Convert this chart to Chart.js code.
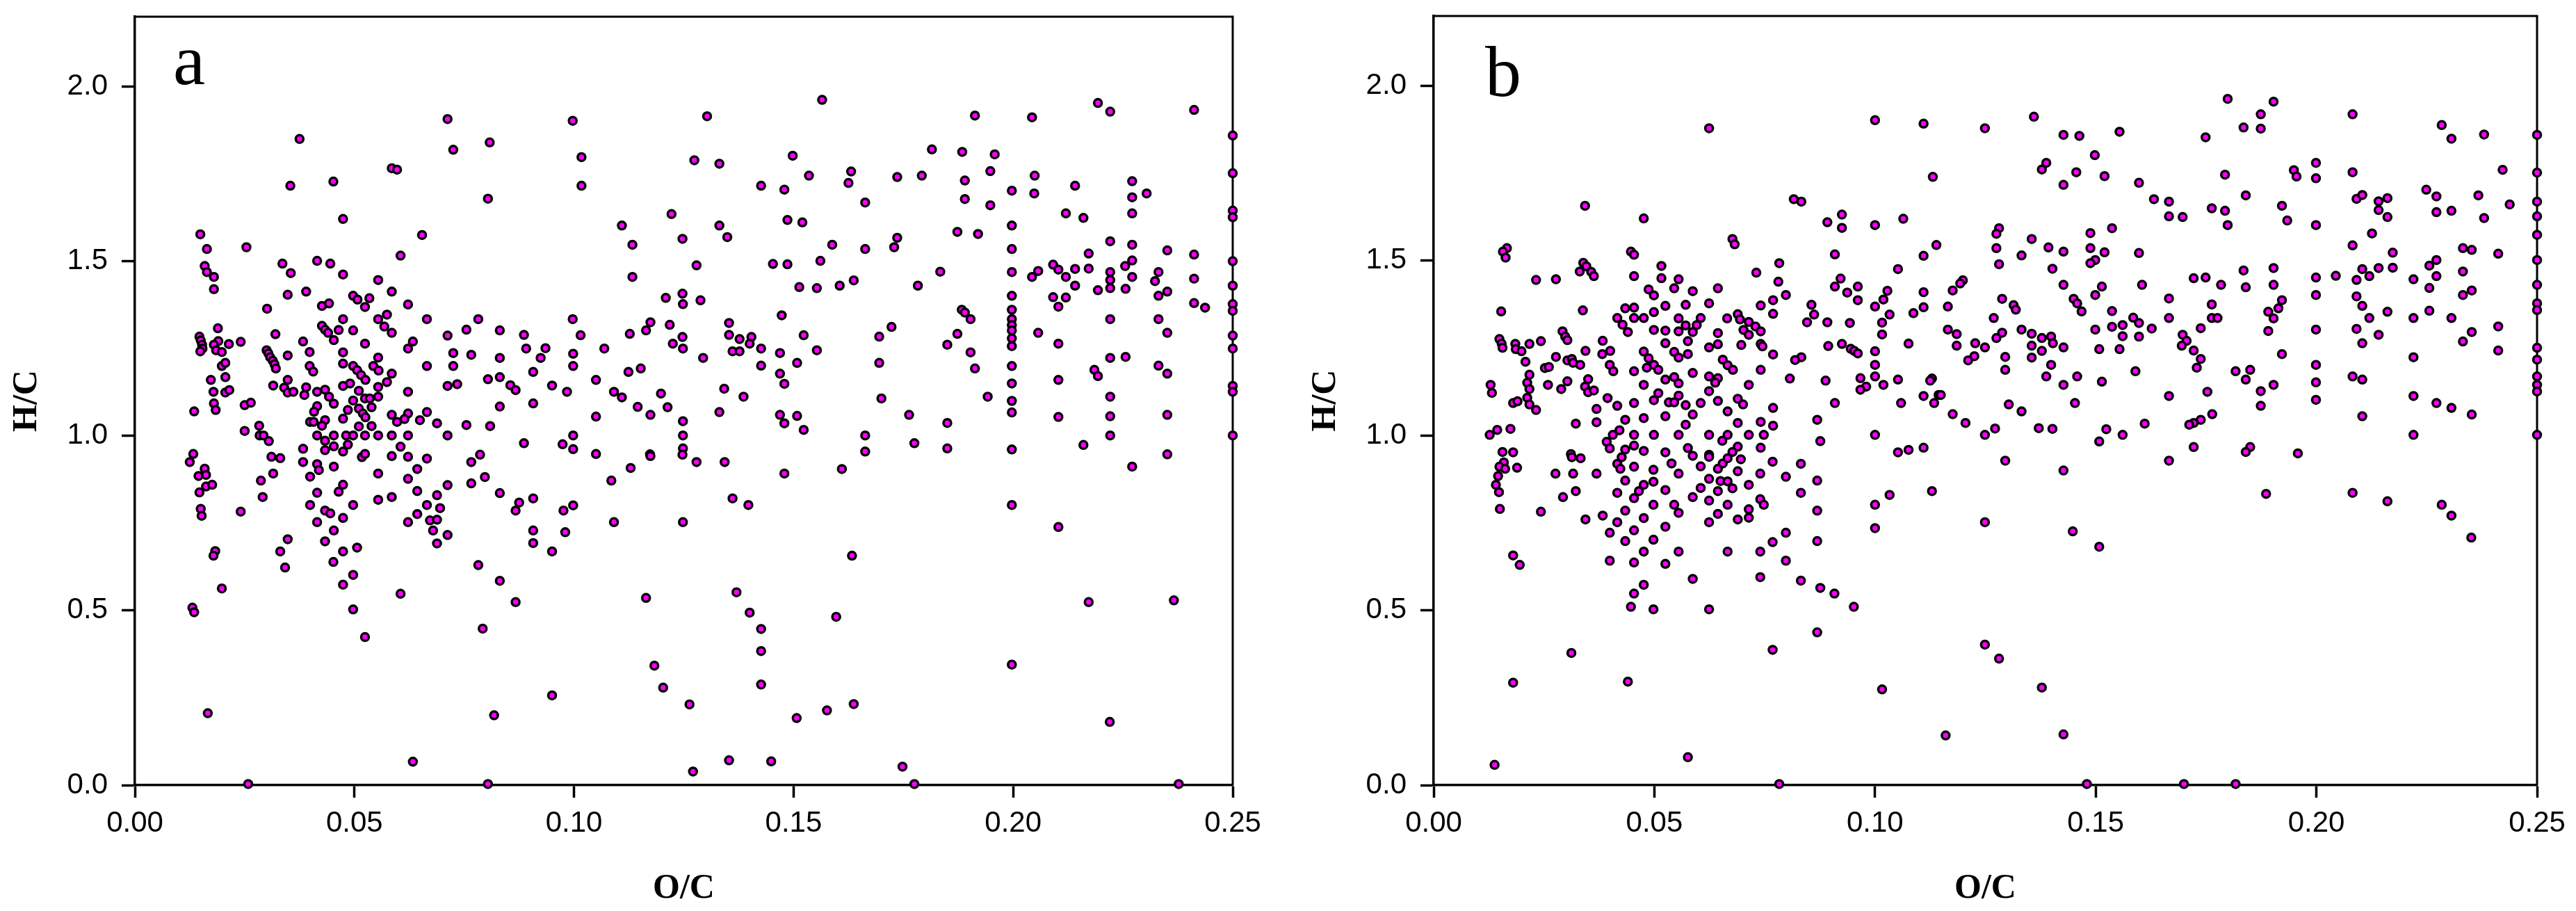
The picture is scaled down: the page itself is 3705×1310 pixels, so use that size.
<!DOCTYPE html>
<html>
<head>
<meta charset="utf-8">
<title>H/C vs O/C</title>
<script src="https://cdn.jsdelivr.net/npm/chart.js@4/dist/chart.umd.min.js"></script>
<style>
  html, body { margin: 0; padding: 0; background: #fff; }
  canvas { position: absolute; top: 0; }
  #chartA { left: 0; }
  #chartB { left: 1868px; }
</style>
</head>
<body>
<canvas id="chartA" width="1868" height="1310"></canvas>
<canvas id="chartB" width="1837" height="1310"></canvas>
<script>
const xTicks = [0, 0.05, 0.10, 0.15, 0.20, 0.25];
const yTicks = [0, 0.5, 1.0, 1.5, 2.0];

// [O/C, H/C]
const panelA = [
[.0375,1.85],[.0354,1.716],[.0452,1.728],[.0585,1.766],[.0597,1.762],[.0712,1.907],[.0725,1.819],[.0808,1.84],[.0804,1.679],[.0997,1.902],
[.1017,1.798],[.1017,1.716],[.0474,1.621],[.0654,1.575],[.0605,1.516],[.0149,1.577],[.0164,1.535],[.0254,1.54],[.0159,1.486],[.0164,1.469],
[.018,1.455],[.018,1.42],[.0336,1.493],[.0355,1.466],[.0415,1.501],[.0445,1.493],[.0474,1.462],[.0554,1.446],[.0585,1.413],[.039,1.413],
[.0348,1.404],[.0497,1.401],[.0507,1.39],[.0534,1.394],[.0524,1.369],[.0622,1.376],[.0426,1.372],[.0442,1.379],[.0301,1.364],[.0574,1.347],
[.0554,1.334],[.0474,1.334],[.0665,1.334],[.0782,1.334],[.0997,1.334],[.0568,1.313],[.0585,1.295],[.0426,1.315],[.0433,1.304],[.044,1.295],
[.0464,1.303],[.0497,1.302],[.0755,1.304],[.0831,1.302],[.0886,1.289],[.0712,1.287],[.1015,1.288],[.0189,1.308],[.032,1.291],[.0147,1.284],
[.015,1.273],[.0153,1.261],[.0154,1.25],[.0149,1.242],[.019,1.271],[.018,1.261],[.0214,1.263],[.0185,1.245],[.0198,1.24],[.0241,1.269],
[.0383,1.27],[.0453,1.274],[.0524,1.264],[.0633,1.27],[.0622,1.25],[.0891,1.25],[.0935,1.251],[.1069,1.25],[.03,1.245],[.0304,1.236],
[.0308,1.225],[.0314,1.215],[.0318,1.205],[.0321,1.193],[.0348,1.23],[.0398,1.24],[.0474,1.239],[.0554,1.224],[.0725,1.237],[.0766,1.232],
[.0831,1.223],[.0924,1.223],[.0998,1.235],[.0474,1.207],[.0398,1.2],[.0406,1.184],[.0497,1.2],[.0506,1.188],[.0515,1.174],[.0525,1.16],
[.0543,1.2],[.0555,1.187],[.0585,1.178],[.0665,1.2],[.0725,1.2],[.0998,1.2],[.0198,1.2],[.0206,1.209],[.0206,1.168],[.0173,1.16],
[.0179,1.126],[.0206,1.124],[.0215,1.131],[.0348,1.16],[.0315,1.144],[.034,1.138],[.0348,1.124],[.0361,1.126],[.039,1.139],[.0386,1.117],
[.0415,1.126],[.0433,1.132],[.0442,1.112],[.0453,1.092],[.0474,1.143],[.049,1.15],[.051,1.129],[.0574,1.154],[.0554,1.14],[.0554,1.112],
[.0524,1.107],[.0535,1.107],[.0497,1.101],[.0622,1.126],[.0712,1.143],[.0734,1.148],[.0804,1.162],[.0831,1.168],[.0855,1.145],[.0867,1.131],
[.0907,1.183],[.095,1.144],[.105,1.16],[.0984,1.126],[.1091,1.126],[.1109,1.11],[.018,1.093],[.0184,1.074],[.0135,1.07],[.025,1.088],
[.0264,1.095],[.0415,1.085],[.0408,1.069],[.0485,1.074],[.051,1.078],[.0539,1.082],[.0519,1.064],[.0525,1.053],[.0474,1.049],[.0433,1.045],
[.0399,1.04],[.0407,1.04],[.0426,1.029],[.051,1.027],[.0539,1.028],[.0585,1.06],[.0622,1.064],[.0614,1.048],[.0597,1.04],[.0665,1.068],
[.0649,1.045],[.0688,1.036],[.0755,1.031],[.0809,1.028],[.0831,1.084],[.0907,1.093],[.105,1.055],[.0283,1.029],[.025,1.014],[.0284,1.001],
[.0293,1.001],[.0305,.985],[.0415,1.001],[.0453,1.001],[.0481,1.001],[.0497,1.001],[.0524,1.001],[.0554,1.001],[.0585,1.001],[.0622,1.001],
[.0712,1.001],[.0998,1.001],[.0433,.986],[.0453,.97],[.0485,.975],[.0605,.969],[.0886,.979],[.0974,.976],[.0998,.962],[.0383,.963],
[.0433,.959],[.0474,.955],
[.0133,.948],[.0125,.925],[.0159,.906],[.0145,.885],[.0162,.888],[.0162,.855],[.0176,.86],[.0147,.838],[.015,.791],[.0152,.771],
[.0241,.783],[.0311,.94],[.0331,.936],[.0383,.925],[.0415,.919],[.0419,.902],[.0453,.912],[.0315,.892],[.0287,.872],[.0291,.825],
[.0399,.883],[.0415,.837],[.0474,.86],[.0464,.84],[.0399,.802],[.0433,.786],[.0445,.778],[.0415,.753],[.0474,.765],[.0497,.802],
[.0453,.729],[.0433,.698],[.0474,.669],[.0506,.68],[.0452,.639],[.0497,.602],[.0474,.574],[.0497,.503],[.0524,.424],[.0348,.704],
[.0331,.669],[.0342,.623],[.0183,.67],[.0179,.657],[.0198,.563],[.0131,.508],[.0135,.495],[.0166,.206],[.0258,.003],[.0633,.067],
[.0804,.003],[.0818,.2],[.095,.257],[.0867,.524],[.0792,.448],[.0831,.585],[.0782,.63],[.0605,.548],[.0517,.939],[.0524,.948],
[.0585,.942],[.0622,.94],[.0665,.935],[.0554,.892],[.0643,.905],[.0622,.877],[.0643,.842],[.0712,.859],[.0688,.83],[.0554,.817],
[.0585,.825],[.0665,.802],[.0695,.793],[.0622,.753],[.0643,.776],[.0672,.758],[.0688,.76],[.0679,.729],[.0712,.716],[.0688,.692],
[.0766,.925],[.0786,.946],[.0797,.882],[.0766,.864],[.0831,.836],[.0907,.821],[.0875,.809],[.0867,.786],[.0998,.801],[.0976,.786],
[.0907,.729],[.0907,.693],[.098,.724],[.095,.669],[.1085,.872],[.1091,.753],[.105,.948],
[.1303,1.915],[.1565,1.962],[.1913,1.917],[.2043,1.912],[.2193,1.953],[.2221,1.928],[.2412,1.933],[.25,1.86],[.25,1.752],[.25,1.645],
[.25,1.626],[.25,1.5],[.25,1.43],[.25,1.377],[.25,1.358],[.25,1.287],[.25,1.25],[.25,1.143],[.25,1.126],[.25,1.001],
[.1274,1.789],[.1331,1.779],[.1498,1.802],[.1535,1.745],[.1426,1.716],[.1479,1.705],[.1631,1.757],[.1625,1.724],[.1663,1.668],[.1736,1.741],
[.1792,1.745],[.1815,1.82],[.1884,1.813],[.1958,1.806],[.1948,1.758],[.189,1.731],[.189,1.678],[.1948,1.66],[.1997,1.702],[.2049,1.745],
[.2048,1.694],[.2141,1.716],[.2271,1.729],[.2271,1.683],[.2304,1.694],[.2271,1.637],[.212,1.637],[.216,1.624],[.1222,1.635],[.1331,1.602],
[.1349,1.569],[.1247,1.564],[.1133,1.547],[.1109,1.602],[.1486,1.618],[.152,1.611],[.1588,1.547],[.1663,1.535],[.1736,1.567],[.1729,1.54],
[.1873,1.584],[.192,1.578],[.1997,1.602],[.1997,1.535],[.2221,1.557],[.2271,1.547],[.2172,1.522],[.2351,1.531],[.2412,1.519],[.2271,1.502],
[.2255,1.486],[.2091,1.49],[.2103,1.476],[.2141,1.478],[.2172,1.479],[.2057,1.472],[.2043,1.455],[.212,1.455],[.2221,1.469],[.2221,1.446],
[.2271,1.455],[.2331,1.469],[.2323,1.443],[.2412,1.45],[.1997,1.469],[.1279,1.488],[.1453,1.492],[.1486,1.491],[.1561,1.501],[.1133,1.455],
[.1834,1.47],[.1637,1.445],[.1605,1.43],[.1513,1.426],[.1553,1.423],[.1783,1.43],[.2141,1.43],[.2193,1.417],[.2221,1.423],[.2256,1.421],
[.2351,1.413],[.2331,1.401],[.1997,1.401],[.2091,1.397],[.212,1.396],[.2103,1.37],[.2412,1.38],[.2437,1.367],[.1209,1.395],[.1247,1.407],
[.1248,1.377],[.1288,1.388],[.1473,1.345],[.1883,1.361],[.189,1.353],[.1903,1.334],[.1997,1.361],[.1997,1.334],[.1997,1.317],[.1997,1.302],
[.1997,1.279],[.1997,1.257],[.2221,1.334],[.2331,1.334],[.1723,1.312],[.1695,1.284],[.1873,1.292],[.185,1.261],[.1903,1.239],[.2057,1.295],
[.2103,1.264],[.2351,1.295],[.1174,1.325],[.1164,1.302],[.1218,1.318],[.1127,1.292],[.1247,1.283],[.1225,1.264],[.1248,1.25],[.1353,1.323],
[.1353,1.289],[.1377,1.277],[.1404,1.283],[.14,1.264],[.1426,1.25],[.1361,1.242],[.1377,1.242],[.1469,1.237],[.1523,1.288],[.1553,1.245],
[.1294,1.223],[.1152,1.193],[.1124,1.183],[.1426,1.201],[.1508,1.209],[.1469,1.178],[.1479,1.149],[.1695,1.209],[.1913,1.193],[.1997,1.2],
[.1997,1.15],[.1997,1.1],[.1997,1.067],[.2221,1.223],[.2256,1.226],[.2331,1.201],[.2351,1.178],[.2185,1.189],[.2193,1.171],[.2103,1.16],
[.1198,1.121],[.1342,1.135],[.1386,1.112],[.17,1.107],[.1942,1.112],[.2221,1.112],[.1145,1.083],[.1213,1.082],[.1174,1.06],[.1331,1.068],
[.1469,1.06],[.1508,1.057],[.1479,1.036],[.1523,1.017],[.1248,1.042],[.1248,1.001],[.1248,.964],[.1173,.947],[.1763,1.06],[.185,1.037],
[.1663,1.001],[.1775,.979],[.185,.964],[.1663,.955],[.2103,1.054],[.2221,1.056],[.2351,1.06],[.2221,1.001],[.216,.974],[.1997,.961],
[.2351,.947],
[.1129,.908],[.1174,.942],[.1247,.946],[.1279,.925],[.1343,.925],[.1479,.892],[.161,.905],[.2271,.912],[.1361,.821],[.1397,.802],
[.1248,.753],[.1997,.802],[.2103,.739],[.1633,.657],[.1164,.536],[.137,.552],[.14,.494],[.1426,.447],[.1426,.384],[.1426,.288],
[.1597,.482],[.2172,.524],[.2366,.529],[.1997,.345],[.1183,.342],[.1203,.279],[.1263,.231],[.1507,.192],[.1576,.214],[.1637,.232],
[.222,.181],[.1353,.071],[.1271,.039],[.1449,.068],[.1748,.053],[.1775,.003],[.2377,.003]
];

// [O/C, H/C]
const panelB = [
[.0624,1.879],[.1,1.902],[.111,1.892],[.1131,1.74],[.0343,1.657],[.0476,1.621],[.0816,1.676],[.0833,1.669],[.0925,1.632],[.0925,1.594],
[.0892,1.61],[.1,1.602],[.1064,1.62],[.0677,1.562],[.0682,1.547],[.0909,1.518],[.111,1.514],[.1139,1.545],[.0166,1.536],[.0157,1.526],
[.0163,1.509],[.0447,1.526],[.0454,1.517],[.0339,1.494],[.0346,1.484],[.0331,1.469],[.0357,1.468],[.0363,1.456],[.0232,1.445],[.0277,1.447],
[.0454,1.456],[.0516,1.485],[.0516,1.45],[.0555,1.447],[.0545,1.421],[.0487,1.418],[.0499,1.401],[.0587,1.413],[.0644,1.421],[.0731,1.466],
[.0783,1.493],[.0781,1.44],[.0798,1.402],[.0769,1.387],[.0741,1.372],[.0769,1.348],[.1052,1.476],[.0922,1.449],[.0909,1.426],[.0961,1.426],
[.0937,1.409],[.0961,1.387],[.1028,1.414],[.1019,1.389],[.1,1.369],[.111,1.41],[.111,1.367],[.1087,1.35],[.1033,1.346],[.1016,1.323],
[.1016,1.289],[.1076,1.263],[.0856,1.374],[.0862,1.346],[.0846,1.324],[.0892,1.324],[.0943,1.322],[.0624,1.378],[.0525,1.371],[.0571,1.374],
[.0434,1.364],[.0454,1.366],[.0454,1.336],[.0476,1.336],[.0499,1.353],[.0416,1.336],[.0428,1.317],[.044,1.296],[.0338,1.358],[.0153,1.355],
[.0555,1.335],[.0605,1.336],[.0571,1.315],[.0596,1.316],[.0587,1.296],[.0555,1.298],[.0525,1.3],[.0499,1.302],[.0665,1.335],[.0689,1.347],
[.0694,1.332],[.0714,1.325],[.0702,1.302],[.0729,1.312],[.0714,1.288],[.0741,1.298],[.0644,1.293],[.0292,1.298],[.0298,1.283],[.0303,1.273],
[.0149,1.276],[.0154,1.263],[.0156,1.251],[.0185,1.262],[.0186,1.247],[.0199,1.241],[.0217,1.262],[.0243,1.27],[.0383,1.271],[.0525,1.264],
[.0576,1.27],[.0624,1.252],[.0644,1.261],[.0697,1.259],[.0741,1.262],[.0745,1.255],[.0894,1.256],[.0925,1.262],[.0945,1.248],[.0953,1.242],
[.0961,1.235],[.1,1.241],[.0769,1.232],[.0833,1.224],[.0819,1.216],[.0344,1.242],[.04,1.242],[.0382,1.233],[.0476,1.24],[.0487,1.221],
[.0545,1.239],[.0555,1.223],[.0576,1.233],[.0277,1.225],[.0303,1.215],[.0313,1.219],[.0316,1.208],[.0332,1.202],[.0208,1.211],[.0252,1.193],
[.0261,1.196],[.0499,1.202],[.0483,1.194],[.0509,1.188],[.0399,1.202],[.0407,1.184],[.0454,1.184],[.0587,1.179],[.0655,1.217],[.0666,1.201],
[.0678,1.188],[.0741,1.188],[.1,1.202],[.1,1.169],[.0217,1.174],[.0212,1.151],[.0217,1.133],[.0212,1.108],[.0217,1.089],[.0232,1.073],
[.0303,1.155],[.0289,1.133],[.0259,1.145],[.0129,1.145],[.0132,1.122],[.018,1.093],[.019,1.098],[.035,1.161],[.0343,1.14],[.035,1.124],
[.0363,1.129],[.0394,1.107],[.0369,1.076],[.0416,1.085],[.0454,1.093],[.0476,1.145],[.0525,1.16],[.0545,1.167],[.0555,1.149],[.0509,1.121],
[.0499,1.101],[.0555,1.114],[.0533,1.095],[.0545,1.095],[.0571,1.087],[.0605,1.093],[.0624,1.169],[.0644,1.164],[.0638,1.151],[.0624,1.127],
[.0644,1.099],[.0689,1.105],[.0701,1.089],[.0714,1.145],[.0807,1.163],[.0888,1.157],[.0967,1.164],[.1019,1.145],[.098,1.14],[.0967,1.131],
[.1052,1.16],[.1129,1.163],[.1125,1.157],[.0909,1.093],[.1059,1.093],[.111,1.113],[.1134,1.093],[.1144,1.116],[.0666,1.069],[.0587,1.06],
[.0525,1.055],[.0476,1.05],[.0434,1.045],[.0769,1.079],[.0741,1.039],[.0769,1.028],[.0869,1.045],[.0322,1.034],[.0369,1.038],[.0571,1.031],
[.0689,1.036],[.0421,1.015],[.0406,1.002],[.0454,1.002],[.0499,1.002],[.0555,1.002],[.0624,1.002],[.0666,1.002],[.0714,1.002],[.0748,1.002],
[.1,1.002],[.0127,1.002],[.0144,1.016],[.0174,1.019],[.0392,.982],[.0399,.963],[.0454,.971],[.0434,.96],[.0654,.985],[.0689,.968],
[.0741,.965],[.0576,.964],[.0876,.984],[.0476,.956],[.0525,.952],[.0677,.953],[.111,.965],[.1076,.959],[.1052,.952],[.0156,.953],
[.018,.952],[.0311,.947],[.0624,.945],
[.0159,.923],[.0149,.911],[.0162,.905],[.0189,.908],[.0146,.884],[.0141,.859],[.0148,.838],[.015,.79],[.0243,.782],[.0276,.891],
[.0316,.891],[.0369,.891],[.0313,.938],[.0333,.935],[.0293,.824],[.0322,.841],[.0344,.76],[.0383,.771],[.0416,.752],[.0399,.722],
[.0434,.785],[.0454,.729],[.0434,.698],[.0476,.764],[.0498,.802],[.0498,.702],[.0525,.739],[.0476,.668],[.0399,.642],[.0454,.637],
[.0525,.633],[.0555,.668],[.0587,.59],[.0476,.573],[.0454,.548],[.0447,.51],[.0498,.503],[.0624,.503],[.0312,.378],[.018,.293],
[.044,.296],[.0576,.08],[.0138,.058],[.0783,.003],[.1016,.274],[.0869,.437],[.0768,.387],[.0952,.51],[.0908,.548],[.0876,.564],
[.0832,.585],[.074,.595],[.0798,.642],[.074,.668],[.0768,.695],[.0798,.722],[.0869,.698],[.1,.735],[.0869,.785],[.1,.802],
[.1033,.83],[.1129,.841],[.0666,.668],[.0195,.63],[.018,.657],[.0416,.919],[.0426,.938],[.0423,.905],[.0454,.911],[.0498,.902],
[.0539,.92],[.0555,.891],[.0587,.942],[.0605,.912],[.0624,.939],[.0644,.905],[.0655,.92],[.0666,.935],[.0696,.932],[.0689,.898],
[.0768,.925],[.0832,.919],[.0798,.882],[.074,.891],[.0714,.859],[.0624,.876],[.065,.87],[.0666,.869],[.0677,.849],[.0644,.841],
[.0605,.85],[.0624,.814],[.0587,.824],[.0666,.802],[.0644,.776],[.0624,.752],[.0689,.76],[.0714,.765],[.0714,.789],[.074,.818],
[.0748,.802],[.0832,.836],[.0869,.871],[.0545,.802],[.0555,.779],[.0525,.844],[.0498,.868],[.0476,.859],[.0465,.841],[.0454,.821],
[.0416,.836],[.0434,.871],
[.1249,1.879],[.136,1.912],[.1427,1.86],[.1463,1.857],[.1554,1.869],[.1498,1.802],[.1388,1.78],[.1378,1.761],[.1456,1.753],[.152,1.742],
[.1427,1.717],[.1598,1.723],[.1632,1.676],[.1666,1.669],[.1666,1.627],[.1697,1.625],[.1763,1.65],[.1793,1.643],[.1799,1.602],[.1749,1.853],
[.1799,1.963],[.1903,1.955],[.1874,1.919],[.1874,1.878],[.1835,1.881],[.1793,1.746],[.184,1.687],[.1922,1.657],[.1934,1.615],[.1949,1.759],
[.1955,1.741],[.1999,1.78],[.1999,1.736],[.1999,1.602],[.2082,1.919],[.2082,1.753],[.2284,1.888],[.2306,1.849],[.238,1.861],[.2422,1.76],
[.25,1.86],[.25,1.752],[.25,1.669],[.25,1.627],[.25,1.574],[.25,1.502],[.25,1.431],[.25,1.378],[.25,1.359],[.25,1.251],
[.25,1.217],[.25,1.169],[.25,1.145],[.25,1.126],[.25,1.002],[.2249,1.703],[.2272,1.684],[.2272,1.639],[.2306,1.643],[.2367,1.687],
[.238,1.622],[.2438,1.661],[.2091,1.677],[.2104,1.688],[.2141,1.67],[.2161,1.679],[.2141,1.645],[.2161,1.625],[.2126,1.578],[.2082,1.544],
[.2173,1.523],[.2173,1.48],[.2141,1.479],[.2104,1.476],[.212,1.456],[.2091,1.445],[.2044,1.457],[.1999,1.452],[.1999,1.402],[.2091,1.398],
[.2104,1.371],[.2161,1.354],[.212,1.336],[.222,1.447],[.222,1.336],[.2256,1.422],[.2256,1.357],[.2272,1.502],[.2256,1.486],[.2272,1.456],
[.2332,1.536],[.2352,1.531],[.2412,1.52],[.2332,1.469],[.2352,1.415],[.2332,1.402],[.2306,1.336],[.2412,1.312],[.2352,1.296],[.2332,1.269],
[.2412,1.243],[.222,1.224],[.222,1.113],[.2272,1.093],[.2306,1.079],[.2352,1.06],[.2104,1.055],[.222,1.002],[.2091,1.305],[.2141,1.288],
[.2104,1.264],[.2082,1.169],[.2104,1.16],[.1999,1.303],[.1999,1.202],[.1999,1.152],[.1999,1.102],[.1903,1.479],[.1903,1.431],[.1835,1.472],
[.184,1.424],[.1784,1.431],[.1749,1.452],[.1722,1.45],[.1666,1.392],[.1763,1.375],[.1922,1.387],[.1914,1.364],[.1891,1.354],[.1903,1.335],
[.1891,1.299],[.1922,1.233],[.1666,1.336],[.1763,1.336],[.1776,1.336],[.1738,1.307],[.1697,1.288],[.1706,1.271],[.1695,1.257],[.1722,1.243],
[.1738,1.219],[.1729,1.194],[.1817,1.184],[.185,1.188],[.184,1.16],[.1903,1.145],[.1874,1.127],[.1874,1.085],[.1753,1.125],[.1666,1.113],
[.1764,1.061],[.1738,1.045],[.1722,1.036],[.1712,1.031],[.1611,1.034],[.1524,1.018],[.1561,1.002],[.1508,.983],[.1402,1.019],[.1371,1.021],
[.1272,1.02],[.1249,1.002],[.1205,1.036],[.1176,1.061],[.1303,1.089],[.1332,1.069],[.1453,1.093],[.1722,.967],[.185,.967],[.184,.953],
[.1958,.949],
[.1281,1.593],[.1275,1.577],[.1355,1.562],[.1275,1.536],[.1393,1.538],[.1427,1.526],[.1332,1.515],[.1281,1.49],[.1402,1.477],[.1488,1.579],
[.1537,1.593],[.1488,1.536],[.152,1.524],[.1499,1.502],[.1488,1.493],[.1598,1.522],[.1427,1.431],[.1514,1.426],[.1605,1.431],[.1499,1.402],
[.1199,1.444],[.1193,1.435],[.1176,1.415],[.1165,1.369],[.1288,1.391],[.1314,1.373],[.1319,1.36],[.145,1.391],[.1458,1.378],[.1468,1.355],
[.1269,1.336],[.1537,1.356],[.1585,1.337],[.1598,1.322],[.1627,1.306],[.1561,1.316],[.1537,1.311],[.1499,1.303],[.1561,1.284],[.1598,1.283],
[.1165,1.303],[.1185,1.29],[.1288,1.294],[.1275,1.279],[.1332,1.303],[.1355,1.291],[.1378,1.279],[.1399,1.283],[.1403,1.264],[.1427,1.252],
[.1355,1.257],[.1378,1.242],[.1355,1.223],[.1227,1.264],[.1249,1.252],[.1185,1.257],[.1225,1.227],[.1211,1.215],[.1295,1.225],[.1295,1.188],
[.1399,1.202],[.1388,1.169],[.1458,1.169],[.1427,1.145],[.1514,1.154],[.1508,1.247],[.1554,1.247],[.159,1.184],[.1149,1.116],
[.1295,.928],[.1427,.9],[.1666,.928],[.1886,.833],[.2082,.836],[.2161,.812],[.2284,.802],[.2306,.771],[.2351,.708],[.1249,.752],
[.1448,.726],[.1508,.682],[.1249,.402],[.1281,.362],[.1378,.279],[.116,.142],[.1427,.145],[.148,.003],[.17,.003],[.1817,.003]
];

// frame on top and right, plus the panel letter
const framePlugin = {
  id: 'frame',
  beforeDatasetsDraw(chart, args, opts) {
    const { ctx, chartArea: a } = chart;
    ctx.save();
    ctx.strokeStyle = '#000';
    ctx.lineWidth = 3;
    ctx.beginPath();
    ctx.moveTo(a.left, a.top);
    ctx.lineTo(a.right, a.top);
    ctx.lineTo(a.right, a.bottom);
    ctx.stroke();
    ctx.fillStyle = '#000';
    ctx.font = '104px "Liberation Serif"';
    ctx.textBaseline = 'alphabetic';
    ctx.fillText(opts.letter, a.left + opts.dx, opts.y);
    ctx.restore();
  }
};

function makeChart(id, points, letter, pad, yWidth, letterDx, letterY) {
  return new Chart(document.getElementById(id), {
    type: 'scatter',
    data: {
      datasets: [{
        data: points.map(p => ({ x: p[0], y: p[1] })),
        showLine: false,
        clip: false,
        pointRadius: 5.5,
        pointBorderWidth: 3.5,
        pointBackgroundColor: '#ff00ff',
        pointBorderColor: '#000000'
      }]
    },
    options: {
      responsive: false,
      animation: false,
      layout: { padding: pad },
      plugins: {
        legend: { display: false },
        tooltip: { enabled: false },
        frame: { letter: letter, dx: letterDx, y: letterY }
      },
      scales: {
        x: {
          type: 'linear',
          min: 0,
          max: 0.25,
          afterBuildTicks: s => { s.ticks = xTicks.map(v => ({ value: v })); },
          afterFit: s => { s.height = 181; s.paddingLeft = 0; s.paddingRight = 0; },
          border: { display: true, color: '#000', width: 3.5 },
          grid: { drawOnChartArea: false, drawTicks: true, tickLength: 18, tickWidth: 3.5, tickColor: '#000' },
          ticks: {
            color: '#000',
            autoSkip: false,
            maxRotation: 0,
            padding: 12,
            font: { family: '"Liberation Sans"', size: 42 },
            callback: v => v.toFixed(2)
          },
          title: {
            display: true,
            text: 'O/C',
            color: '#000',
            padding: { top: 0, bottom: 2 },
            font: { family: '"Liberation Serif"', size: 50, weight: 'bold' }
          }
        },
        y: {
          type: 'linear',
          min: 0,
          max: 2.2,
          afterBuildTicks: s => { s.ticks = yTicks.map(v => ({ value: v })); },
          afterFit: s => { s.width = yWidth; s.paddingTop = 0; s.paddingBottom = 0; },
          border: { display: true, color: '#000', width: 3.5 },
          grid: { drawOnChartArea: false, drawTicks: true, tickLength: 19, tickWidth: 3.5, tickColor: '#000' },
          ticks: {
            color: '#000',
            autoSkip: false,
            padding: 20,
            font: { family: '"Liberation Sans"', size: 42 },
            callback: v => v.toFixed(1)
          },
          title: {
            display: true,
            text: 'H/C',
            color: '#000',
            padding: { top: 9, bottom: 0 },
            font: { family: '"Liberation Serif"', size: 50, weight: 'bold' }
          }
        }
      }
    },
    plugins: [framePlugin]
  });
}

makeChart('chartA', panelA, 'a', { left: 0, right: 95, top: 24, bottom: 0 }, 194, 55, 121);
makeChart('chartB', panelB, 'b', { left: 0, right: 56, top: 23, bottom: 0 }, 194, 74, 138);
</script>
</body>
</html>
